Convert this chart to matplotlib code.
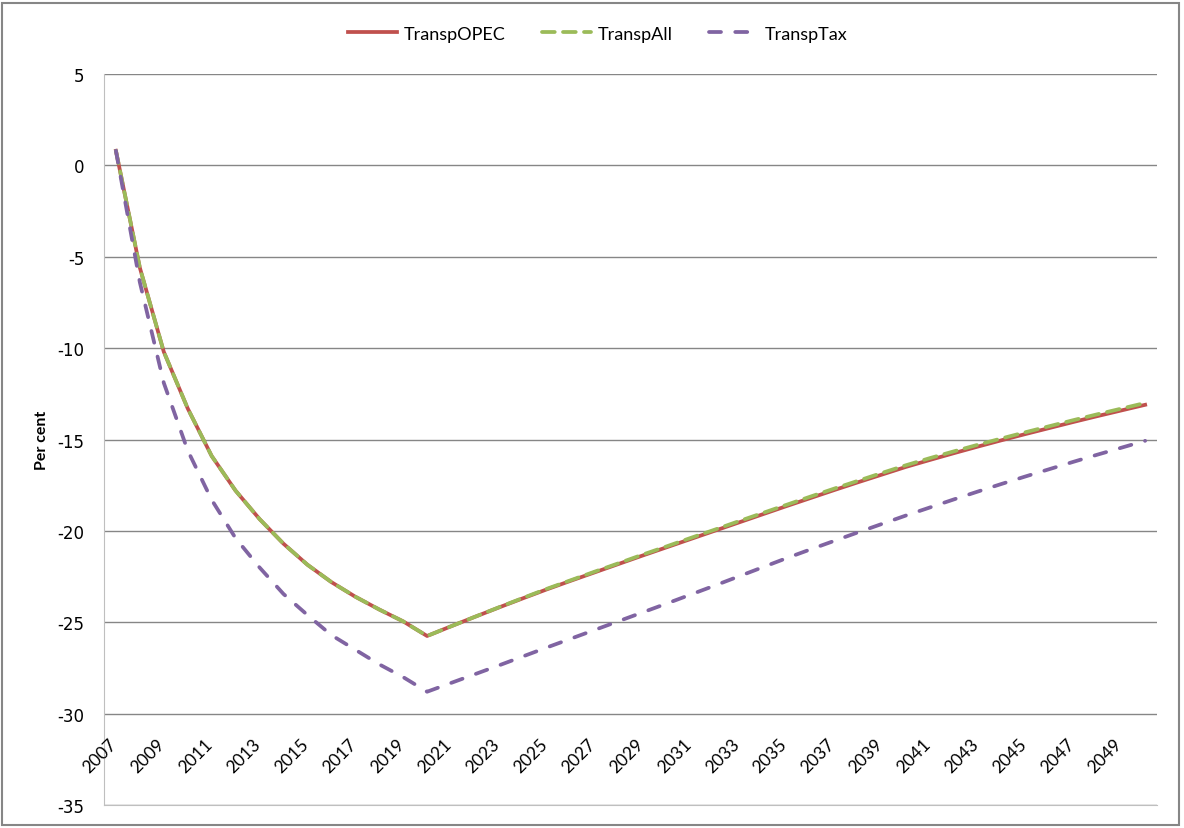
import numpy as np
import matplotlib
matplotlib.use("Agg")
import matplotlib.pyplot as plt
from matplotlib.patches import Rectangle

plt.rcParams["axes.unicode_minus"] = False

years = list(range(2007, 2051))

transp_opec = [0.8, -5.6, -10.2, -13.3, -15.9, -17.8, -19.35, -20.7, -21.85, -22.8,
               -23.6, -24.3, -24.95, -25.75, -25.22, -24.70, -24.19, -23.69, -23.20, -22.73,
               -22.27, -21.81, -21.35, -20.90, -20.45, -20.00, -19.55, -19.10, -18.65, -18.21,
               -17.77, -17.34, -16.92, -16.50, -16.12, -15.75, -15.39, -15.04, -14.70, -14.37,
               -14.04, -13.72, -13.41, -13.10]

transp_all = [0.8, -5.6, -10.2, -13.3, -15.9, -17.8, -19.35, -20.7, -21.85, -22.8,
              -23.6, -24.3, -24.95, -25.75, -25.22, -24.70, -24.18, -23.67, -23.17, -22.70,
              -22.23, -21.77, -21.30, -20.85, -20.39, -19.94, -19.48, -19.03, -18.58, -18.13,
              -17.69, -17.26, -16.83, -16.41, -16.02, -15.65, -15.29, -14.94, -14.60, -14.27,
              -13.94, -13.62, -13.31, -13.00]

transp_tax = [0.8, -6.4, -11.9, -15.6, -18.3, -20.4, -22.0, -23.45, -24.6, -25.7,
              -26.5, -27.3, -28.0, -28.8, -28.32, -27.84, -27.36, -26.87, -26.38, -25.90,
              -25.42, -24.94, -24.46, -23.98, -23.49, -23.00, -22.50, -22.00, -21.50, -21.02,
              -20.55, -20.08, -19.62, -19.16, -18.72, -18.28, -17.85, -17.43, -17.02, -16.62,
              -16.22, -15.83, -15.45, -15.07]

yticks = list(range(-35, 6, 5))

fig = plt.figure(figsize=(11.84, 8.29), dpi=100)
ax = fig.add_axes([0.0878, 0.0277, 0.8895, 0.8818])

x = np.arange(len(years))
ax.plot(x, transp_opec, color="#C0504D", lw=2.7, label="TranspOPEC", zorder=3)
ax.plot(x, transp_all, color="#9BBB59", lw=2.7, dashes=(3.4, 2.2),
        dash_capstyle="round", label="TranspAll", zorder=4)
ax.plot(x, transp_tax, color="#8064A2", lw=2.7, dashes=(3.2, 3.8),
        dash_capstyle="round", label="TranspTax", zorder=5)

ax.set_xlim(-0.5, len(years) - 0.5)
ax.set_ylim(-35, 5)
ax.set_yticks(yticks)
ax.yaxis.grid(True, color="#868686", lw=1)
ax.set_axisbelow(True)
ax.set_xticks([])
ax.tick_params(axis="y", length=0, pad=14, labelsize=12, colors="#000000")

for s in ["top", "right"]:
    ax.spines[s].set_visible(False)
ax.spines["left"].set_color("#BFBFBF")
ax.spines["bottom"].set_color("#BFBFBF")

# category labels sit below the -30 line, every other year
for i, yr in enumerate(years):
    if i % 2 == 0:
        ax.text(i + 0.17, -31.2, str(yr), rotation=45, ha="right", va="top",
                fontsize=12.5, family="Lato")

ax.set_ylabel("Per cent", fontsize=11.5, fontweight="bold", family="Lato", labelpad=6)

fig.legend(loc="center", bbox_to_anchor=(0.505, 0.958), ncol=3, frameon=False,
           prop={"family": "Lato", "size": 13}, handlelength=2.7, columnspacing=2.0,
           handletextpad=0.4)

fig.patches.append(Rectangle((0.002, 0.004), 0.994, 0.991, transform=fig.transFigure,
                             fill=False, edgecolor="#868686", lw=1.5))

fig.savefig("out.png", dpi=100)
